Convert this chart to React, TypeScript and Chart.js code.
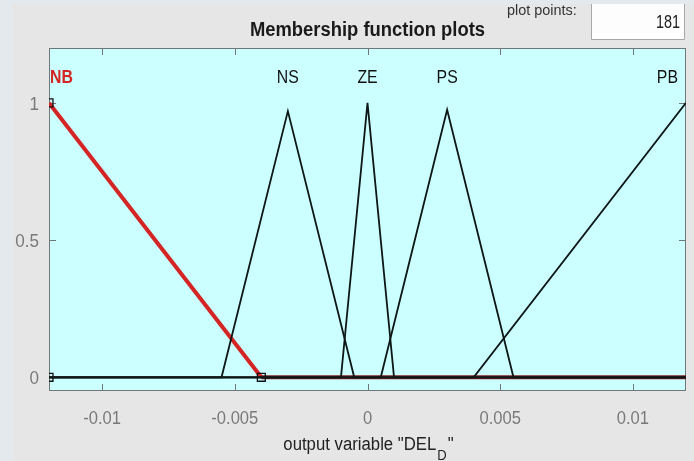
import React, { useEffect, useRef } from 'react';
import { Chart, registerables } from 'chart.js';

Chart.register(...registerables);

// ---- data ----
const xRange = [-0.012, 0.012];
const yRange = [-0.05, 1.2];
const xTicks = [-0.01, -0.005, 0, 0.005, 0.01];
const xTickLabels = ['-0.01', '-0.005', '0', '0.005', '0.01'];
const yTicks = [0, 0.5, 1];
const yTickLabels = ['0', '0.5', '1'];

const mfNames = ['NB', 'NS', 'ZE', 'PS', 'PB'];
const mfPeaks = [-0.012, -0.003, 0, 0.003, 0.012];

const nbX = [-0.012, -0.004, 0.012];
const nbY = [1, 0, 0];
const nsX = [-0.012, -0.0055, -0.003, -0.0005, 0.012];
const nsY = [0, 0, 0.97, 0, 0];
const zeX = [-0.012, -0.001, 0, 0.001, 0.012];
const zeY = [0, 0, 1, 0, 0];
const psX = [-0.012, 0.0005, 0.003, 0.0055, 0.012];
const psY = [0, 0, 0.975, 0, 0];
const pbX = [-0.012, 0.004, 0.012];
const pbY = [0, 0, 1];

const markerX = [-0.012, -0.012, -0.004];
const markerY = [1, 0, 0];

const titleText = 'Membership function plots';
const xTitleMain = 'output variable "DEL';
const xTitleSub = 'D';
const xTitleEnd = '"';
const plotPointsLabel = 'plot points:';
const plotPointsValue = '181';

const FONT = '"Liberation Sans", Arial, sans-serif';

function pts(xs: number[], ys: number[]) {
  return xs.map((x, i) => ({ x, y: ys[i] }));
}

function drawText(
  ctx: CanvasRenderingContext2D,
  text: string,
  x: number,
  y: number,
  font: string,
  color: string,
  align: 'left' | 'center' | 'right',
  sx: number
) {
  ctx.save();
  ctx.font = font;
  ctx.fillStyle = color;
  ctx.textBaseline = 'alphabetic';
  ctx.textAlign = 'left';
  const w = ctx.measureText(text).width * sx;
  const x0 = align === 'center' ? x - w / 2 : align === 'right' ? x - w : x;
  ctx.translate(x0, y);
  ctx.scale(sx, 1);
  ctx.fillText(text, 0, 0);
  ctx.restore();
  return w;
}

function measure(ctx: CanvasRenderingContext2D, text: string, font: string, sx: number) {
  ctx.save();
  ctx.font = font;
  const w = ctx.measureText(text).width * sx;
  ctx.restore();
  return w;
}

const decorPlugin = {
  id: 'decor',
  beforeDraw(chart: any) {
    const { ctx, chartArea: a, width, height } = chart;
    ctx.save();
    ctx.fillStyle = '#e6e6e6';
    ctx.fillRect(0, 0, width, height);
    ctx.fillStyle = '#e4e9ee';
    ctx.fillRect(0, 0, 13, height);
    ctx.fillRect(0, 0, width, 4);
    // plot area
    ctx.fillStyle = '#ccffff';
    ctx.fillRect(a.left, a.top, a.right - a.left, a.bottom - a.top);
    // plot points box
    ctx.fillStyle = '#fdfdfd';
    ctx.fillRect(591, 4, 93, 35);
    ctx.strokeStyle = '#a8a8a8';
    ctx.lineWidth = 1;
    ctx.beginPath();
    ctx.moveTo(591.5, 4);
    ctx.lineTo(591.5, 39.5);
    ctx.lineTo(684.5, 39.5);
    ctx.lineTo(684.5, 4);
    ctx.stroke();
    ctx.restore();
  },
  beforeDatasetsDraw(chart: any) {
    const { ctx, chartArea: a, scales } = chart;
    const xs = scales.x;
    const ys = scales.y;
    ctx.save();
    ctx.strokeStyle = '#6f7878';
    ctx.lineWidth = 1;
    ctx.strokeRect(a.left + 0.5, a.top + 0.5, a.right - a.left - 1, a.bottom - a.top - 1);
    const tl = 7;
    ctx.beginPath();
    xs.ticks.forEach((t: any) => {
      const px = Math.round(xs.getPixelForValue(t.value)) + 0.5;
      ctx.moveTo(px, a.top);
      ctx.lineTo(px, a.top + tl);
      ctx.moveTo(px, a.bottom);
      ctx.lineTo(px, a.bottom - tl);
    });
    ys.ticks.forEach((t: any) => {
      const py = Math.round(ys.getPixelForValue(t.value)) + 0.5;
      ctx.moveTo(a.left, py);
      ctx.lineTo(a.left + tl, py);
      ctx.moveTo(a.right, py);
      ctx.lineTo(a.right - tl, py);
    });
    ctx.stroke();
    ctx.restore();
  },
  afterDraw(chart: any) {
    const { ctx, chartArea: a, scales } = chart;
    const xs = scales.x;
    const ys = scales.y;
    const tickFont = `18px ${FONT}`;
    const tickColor = '#7a7a7a';
    xs.ticks.forEach((t: any, i: number) => {
      const px = xs.getPixelForValue(t.value);
      drawText(ctx, xTickLabels[i], px, a.bottom + 33, tickFont, tickColor, 'center', 0.92);
    });
    ys.ticks.forEach((t: any, i: number) => {
      const py = ys.getPixelForValue(t.value);
      drawText(ctx, yTickLabels[i], a.left - 10, py + 7, tickFont, tickColor, 'right', 0.95);
    });

    // MF names
    mfNames.forEach((name, i) => {
      const bold = i === 0;
      const font = `${bold ? 'bold ' : ''}18px ${FONT}`;
      const color = bold ? '#d42424' : '#111111';
      const sx = 0.88;
      const w = measure(ctx, name, font, sx);
      const cx = xs.getPixelForValue(mfPeaks[i]);
      let left = cx - w / 2;
      if (left < a.left + 1) left = a.left + 1;
      if (left + w > a.right - 8) left = a.right - 8 - w;
      drawText(ctx, name, left, a.top + 35, font, color, 'left', sx);
    });

    // title
    const cx = (a.left + a.right) / 2;
    drawText(ctx, titleText, cx, 36, `bold 20px ${FONT}`, '#1a1a1a', 'center', 0.92);

    // x axis title with subscript
    const mainFont = `18px ${FONT}`;
    const subFont = `14px ${FONT}`;
    const w1 = measure(ctx, xTitleMain, mainFont, 0.93);
    const w2 = measure(ctx, xTitleSub, subFont, 0.93);
    const w3 = measure(ctx, xTitleEnd, mainFont, 0.93);
    let x0 = cx - (w1 + w2 + w3) / 2;
    const base = 450;
    drawText(ctx, xTitleMain, x0, base, mainFont, '#222222', 'left', 0.93);
    x0 += w1;
    drawText(ctx, xTitleSub, x0 + 1, base + 10, subFont, '#222222', 'left', 0.93);
    x0 += w2 + 2;
    drawText(ctx, xTitleEnd, x0, base, mainFont, '#222222', 'left', 0.93);

    // plot points
    drawText(ctx, plotPointsLabel, 507, 15, `14px ${FONT}`, '#333333', 'left', 1.03);
    drawText(ctx, plotPointsValue, 680, 28, `18px ${FONT}`, '#222222', 'right', 0.8);
  },
};

export default function App() {
  const ref = useRef<HTMLCanvasElement | null>(null);

  useEffect(() => {
    if (!ref.current) return;
    const black = '#0e1616';
    const line = (data: any[], extra: any = {}) => ({
      data,
      showLine: true,
      borderColor: black,
      borderWidth: 1.8,
      pointRadius: 0,
      fill: false,
      tension: 0,
      ...extra,
    });
    const chart = new Chart(ref.current, {
      type: 'scatter',
      data: {
        datasets: [
          {
            data: pts(markerX, markerY),
            showLine: false,
            pointStyle: 'rect',
            pointRadius: 5.6,
            pointBorderColor: '#111111',
            pointBackgroundColor: 'rgba(0,0,0,0)',
            pointBorderWidth: 1.3,
            clip: 0,
            order: -1,
          } as any,
          line(pts(nsX, nsY)),
          line(pts(zeX, zeY)),
          line(pts(psX, psY)),
          line(pts(pbX, pbY)),
          line(pts(nbX, nbY), {
            borderColor: '#d42424',
            borderWidth: 4,
            order: 1,
            segment: {
              borderColor: (c: any) =>
                c.p0.parsed.y === 0 && c.p1.parsed.y === 0 ? '#8a2020' : '#d42424',
            },
          }),
        ],
      },
      options: {
        animation: false,
        responsive: false,
        devicePixelRatio: 1,
        events: [],
        layout: { padding: { top: 48, right: 8, left: 0, bottom: 0 } },
        plugins: {
          legend: { display: false },
          tooltip: { enabled: false },
          title: { display: false },
        },
        scales: {
          x: {
            type: 'linear',
            min: xRange[0],
            max: xRange[1],
            grid: { display: false },
            border: { display: false },
            ticks: { display: false },
            afterBuildTicks: (s: any) => {
              s.ticks = xTicks.map((v) => ({ value: v }));
            },
            afterFit: (s: any) => {
              s.height = 70;
            },
          },
          y: {
            type: 'linear',
            min: yRange[0],
            max: yRange[1],
            grid: { display: false },
            border: { display: false },
            ticks: { display: false },
            afterBuildTicks: (s: any) => {
              s.ticks = yTicks.map((v) => ({ value: v }));
            },
            afterFit: (s: any) => {
              s.width = 49;
            },
          },
        },
      } as any,
      plugins: [decorPlugin],
    });
    return () => chart.destroy();
  }, []);

  return (
    <div style={{ position: 'fixed', left: 0, top: 0, width: 694, height: 461 }}>
      <canvas ref={ref} width={694} height={461} style={{ display: 'block', width: 694, height: 461 }} />
    </div>
  );
}
